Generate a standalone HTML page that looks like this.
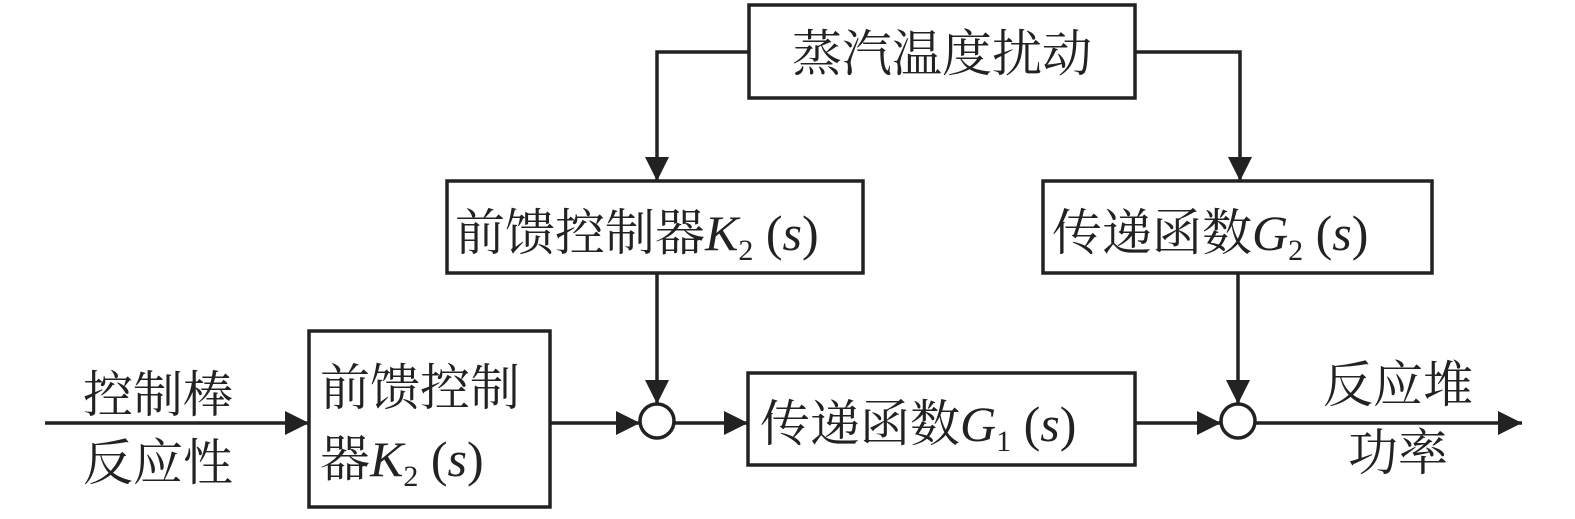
<!DOCTYPE html>
<html><head><meta charset="utf-8"><style>
html,body{margin:0;padding:0;background:#fff;}
svg text{font-family:"Liberation Serif","Noto Serif CJK SC",serif;fill:#222;}
</style></head><body>
<svg width="1575" height="514" viewBox="0 0 1575 514" xmlns="http://www.w3.org/2000/svg">
<defs><marker id="a" markerWidth="12" markerHeight="12" refX="12" refY="6" orient="auto" markerUnits="userSpaceOnUse"><path d="M0,0 L24,6 L0,12 Z" transform="scale(0.5,1)" fill="#222"/></marker>
<marker id="b" viewBox="0 0 24 24" markerWidth="24" markerHeight="24" refX="24" refY="12" orient="auto" markerUnits="userSpaceOnUse"><path d="M0,0 L24,12 L0,24 Z" fill="#222"/></marker></defs>
<g stroke="#222" stroke-width="3.5" fill="none">
<rect x="749" y="5" width="386" height="93"/>
<rect x="447" y="181" width="416" height="92"/>
<rect x="1043" y="181" width="389" height="92"/>
<rect x="309" y="331" width="241" height="176"/>
<rect x="748" y="373" width="387" height="92"/>
<circle cx="657" cy="421" r="17"/>
<circle cx="1238" cy="421" r="17"/>
<polyline points="749,52 657,52 657,181" marker-end="url(#b)"/>
<polyline points="1135,52 1240,52 1240,181" marker-end="url(#b)"/>
<line x1="657" y1="273" x2="657" y2="404" marker-end="url(#b)"/>
<line x1="1238" y1="273" x2="1238" y2="404" marker-end="url(#b)"/>
<line x1="45" y1="423" x2="309" y2="423" marker-end="url(#b)"/>
<line x1="550" y1="423" x2="640" y2="423" marker-end="url(#b)"/>
<line x1="674" y1="423" x2="748" y2="423" marker-end="url(#b)"/>
<line x1="1135" y1="423" x2="1221" y2="423" marker-end="url(#b)"/>
<line x1="1255" y1="423" x2="1522" y2="423" marker-end="url(#b)"/>
</g>
<g font-size="50">
<text x="942" y="71" text-anchor="middle">蒸汽温度扰动</text>
<text x="455" y="250">前馈控制器<tspan font-style="italic">K</tspan><tspan font-size="30" dy="10">2</tspan><tspan dy="-10"> (</tspan><tspan font-style="italic">s</tspan>)</text>
<text x="1052" y="250">传递函数<tspan font-style="italic">G</tspan><tspan font-size="30" dy="10">2</tspan><tspan dy="-10"> (</tspan><tspan font-style="italic">s</tspan>)</text>
<text x="760" y="441">传递函数<tspan font-style="italic">G</tspan><tspan font-size="30" dy="10">1</tspan><tspan dy="-10"> (</tspan><tspan font-style="italic">s</tspan>)</text>
<text x="320" y="405">前馈控制</text>
<text x="320" y="476">器<tspan font-style="italic">K</tspan><tspan font-size="30" dy="10">2</tspan><tspan dy="-10"> (</tspan><tspan font-style="italic">s</tspan>)</text>
<text x="158" y="412" text-anchor="middle">控制棒</text>
<text x="158" y="480" text-anchor="middle">反应性</text>
<text x="1398" y="402" text-anchor="middle">反应堆</text>
<text x="1398" y="470" text-anchor="middle">功率</text>
</g>
</svg>
</body></html>
